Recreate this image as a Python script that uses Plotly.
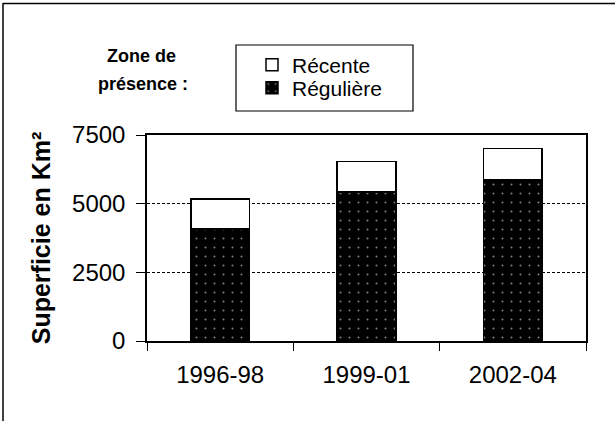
import plotly.graph_objects as go

categories = ["1996-98", "1999-01", "2002-04"]
reguliere = [4080, 5420, 5880]
recente = [1090, 1110, 1130]
y_ticks = [0, 2500, 5000, 7500]

W, H = 615, 421
L, R, T, B = 147, 29, 135, 80
pw, ph = W - L - R, H - T - B

def px(x):
    return (x - L) / pw

def py(y):
    return (H - B - y) / ph

fig = go.Figure()
fig.add_trace(go.Bar(
    x=categories, y=reguliere, name="Régulière", legend="legend2",
    marker=dict(color="black", line=dict(color="black", width=1.5),
                pattern=dict(shape=".", fgcolor="white", size=9, solidity=0.04, fillmode="overlay")),
))
fig.add_trace(go.Bar(
    x=categories, y=recente, name="Récente", legend="legend",
    marker=dict(color="white", line=dict(color="black", width=1.5)),
))

font = "Arial, Liberation Sans, sans-serif"
leg_common = dict(xanchor="left", yanchor="middle", font=dict(size=21, family=font),
                  bgcolor="rgba(0,0,0,0)", itemwidth=30)
fig.update_layout(
    width=W, height=H, barmode="stack", bargap=0.6,
    margin=dict(l=L, r=R, t=T, b=B, autoexpand=False),
    paper_bgcolor="white", plot_bgcolor="white",
    font=dict(family=font, color="black"),
    showlegend=True,
    legend=dict(x=px(252), y=py(65), **leg_common),
    legend2=dict(x=px(252), y=py(88), **leg_common),
    xaxis=dict(type="category", showline=True, linecolor="black", linewidth=1.5, mirror=True,
               ticks="outside", tickson="boundaries", ticklen=8, tickcolor="black",
               tickfont=dict(size=24), ticklabelstandoff=11, showgrid=False),
    yaxis=dict(range=[0, 7500], tickvals=y_ticks, showline=True, linecolor="black",
               linewidth=1.5, mirror=True, ticks="outside", ticklen=9, tickcolor="black",
               tickfont=dict(size=24), ticklabelstandoff=6,
               showgrid=True, gridcolor="black", gridwidth=1, griddash="3px,2px",
               zeroline=False,
               title=dict(text="<b>Superficie en Km²</b>", font=dict(size=25), standoff=14)),
    shapes=[
        dict(type="rect", xref="paper", yref="paper", x0=px(236), x1=px(413), y0=py(111), y1=py(45),
             line=dict(color="black", width=1.2)),
        dict(type="line", xref="paper", yref="paper", x0=px(3), x1=px(3), y0=py(3), y1=py(421),
             line=dict(color="black", width=1.5)),
        dict(type="line", xref="paper", yref="paper", x0=px(3), x1=px(615), y0=py(3.5), y1=py(3.5),
             line=dict(color="black", width=1.5)),
    ],
    annotations=[
        dict(text="<b>Zone de</b>", xref="paper", yref="paper", x=px(141), y=py(56),
             showarrow=False, font=dict(size=18), xanchor="center", yanchor="middle"),
        dict(text="<b>présence :</b>", xref="paper", yref="paper", x=px(143), y=py(84),
             showarrow=False, font=dict(size=18), xanchor="center", yanchor="middle"),
    ],
)

fig.write_html("out.html", config={"displayModeBar": False},
               post_script="document.body.style.margin='0';")
